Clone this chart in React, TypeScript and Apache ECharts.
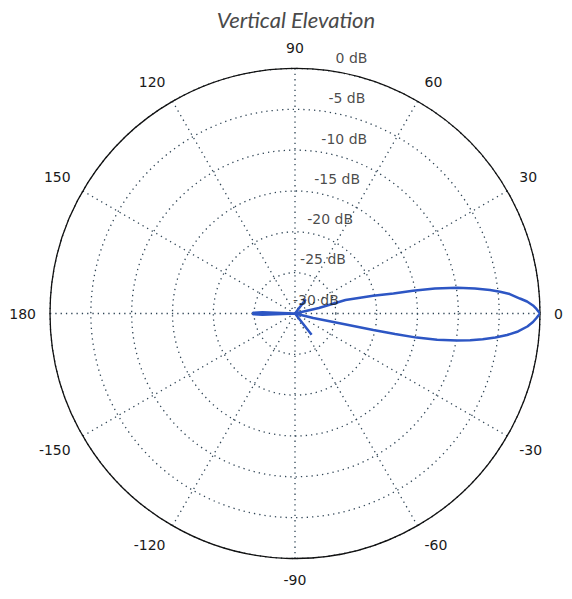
import React, { useEffect, useRef } from "react";
import * as echarts from "echarts";

const TITLE = "Vertical Elevation";
const ANGLE_TICKS = [0, 30, 60, 90, 120, 150, 180, -150, -120, -90, -60, -30];
const RING_VALUES = [0, -5, -10, -15, -20, -25, -30];
const RING_LABEL_ANGLE = 80;

// pattern: angle in degrees (-180..180), gain in dB
const patternAngles = [
  -180, -179, -178, -172, -60, -52, -47, -16, -14, -12.3, -11.9, -11.6, -11.2, -10.5, -9.5, -8.7, -7.8,
  -6.84, -5.8, -4.6, -3.2, -2.05, -1.07, 0, 1.07, 1.93, 2.96, 3.81, 5.18, 6.07, 6.87, 7.9, 9.05, 10.1,
  10.9, 11.5, 12.8, 15.0, 13.0, 20, 45, 53, 60, 172, 178, 179, 180,
];
const patternDb = [
  -24.8, -24.9, -26.0, -30, -30, -26.7, -30, -30, -27.7, -24.4, -20.2, -17.5, -14.8, -12.3, -9.9, -8.3, -6.8,
  -5.3, -3.9, -2.6, -1.5, -0.84, -0.43, 0, -0.43, -0.84, -1.55, -2.4, -3.6, -4.75, -5.95, -7.75, -9.9, -12.6,
  -15.3, -17.7, -20.2, -23.6, -27.0, -30, -30, -27.8, -30, -30, -26.0, -24.9, -24.8,
];

export default function App() {
  const ref = useRef<HTMLDivElement>(null);
  useEffect(() => {
    if (!ref.current) return;
    const chart = echarts.init(ref.current, undefined, { renderer: "svg" });
    const lineData = patternAngles.map((a, i) => [patternDb[i], (a + 360) % 360]);
    const labelFont = { fontFamily: "DejaVu Sans", fontSize: 14, color: "#1a1a1a" };
    const dotted = { color: "#2f4455", width: 1.3, type: [1.3, 4] as number[] };
    chart.setOption({
      animation: false,
      backgroundColor: "#ffffff",
      title: {
        text: TITLE,
        left: 291,
        textAlign: "center",
        top: 3,
        textStyle: {
          fontFamily: "Lato",
          fontStyle: "italic",
          fontWeight: "normal",
          fontSize: 22,
          color: "#4a4a4a",
        },
      },
      polar: { center: [295, 313.5], radius: 245 },
      angleAxis: {
        type: "value",
        min: 0,
        max: 360,
        interval: 30,
        startAngle: 0,
        clockwise: false,
        axisLine: { show: true, lineStyle: { color: "#111", width: 1.3 } },
        axisTick: { show: false },
        axisLabel: {
          ...labelFont,
          margin: 14,
          formatter: (v: number) => {
            const a = v > 180 ? v - 360 : v;
            return ANGLE_TICKS.includes(a) ? String(a) : "";
          },
        },
        splitLine: { show: true, lineStyle: dotted },
      },
      radiusAxis: {
        type: "value",
        min: -30,
        max: 0,
        interval: 5,
        axisLine: { show: false },
        axisTick: { show: false },
        axisLabel: { show: false },
        splitLine: { show: true, lineStyle: dotted },
      },
      series: [
        {
          type: "line",
          coordinateSystem: "polar",
          data: lineData,
          showSymbol: false,
          symbol: "none",
          lineStyle: { color: "#2d56c4", width: 2.5 },
          z: 3,
        },
        {
          type: "scatter",
          coordinateSystem: "polar",
          symbolSize: 0,
          data: RING_VALUES.map((r) => [r, RING_LABEL_ANGLE]),
          label: {
            show: true,
            position: "right",
            distance: 0,
            offset: [-2, -14],
            ...labelFont,
            formatter: (p: any) => `${p.value[0]} dB`,
          },
          z: 4,
          silent: true,
        },
      ],
    });
    return () => chart.dispose();
  }, []);
  return (
    <div
      ref={ref}
      style={{ position: "absolute", left: 0, top: 0, width: 572, height: 599 }}
    />
  );
}
